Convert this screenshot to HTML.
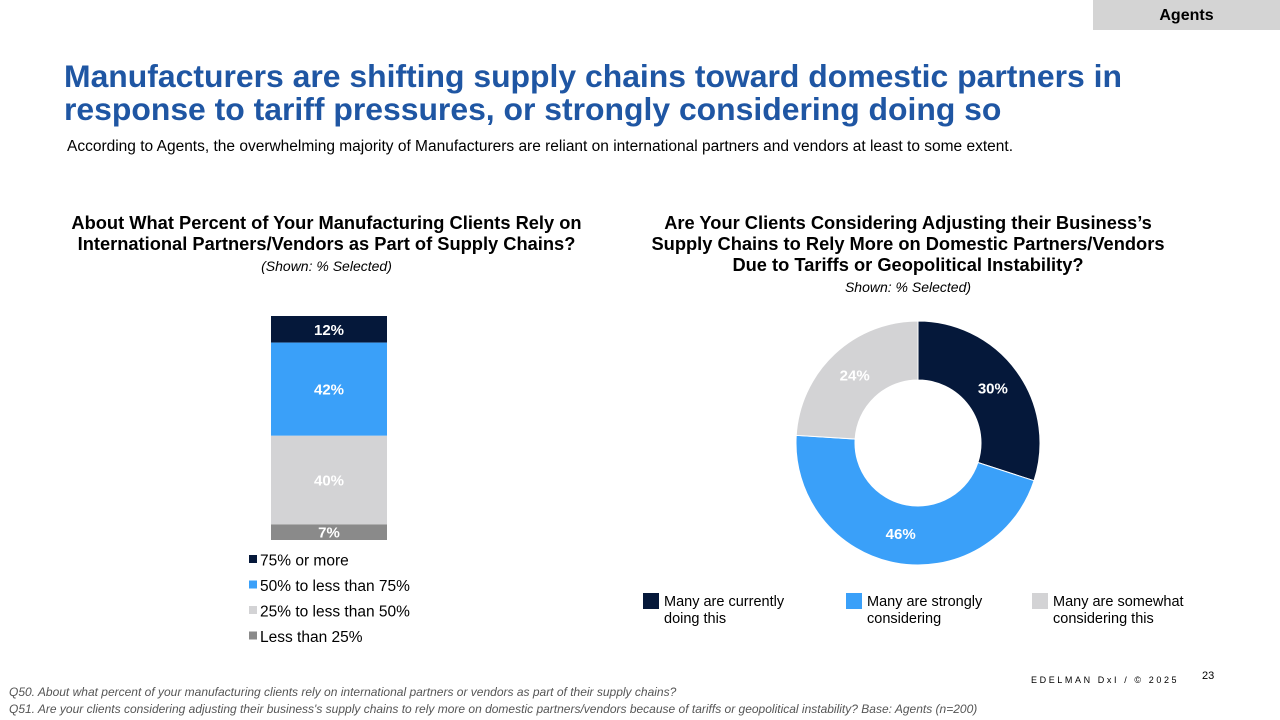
<!DOCTYPE html>
<html><head><meta charset="utf-8">
<style>
body{margin:0;width:1280px;height:720px;background:#fff;font-family:"Liberation Sans",Arial,sans-serif;position:relative;overflow:hidden}
.abs{position:absolute}
</style></head><body>
<div class="abs" style="left:1093px;top:0;width:187px;height:30px;background:#d4d4d4;font-weight:bold;font-size:16px;text-align:center;line-height:31px;color:#000">Agents</div>
<div class="abs" style="left:64px;top:60px;width:1180px;font-size:31.9px;font-weight:bold;color:#1f56a3;line-height:33px">Manufacturers are shifting supply chains toward domestic partners in response to tariff pressures, or strongly considering doing so</div>
<div class="abs" style="left:67px;top:138px;font-size:15.5px;color:#000">According to Agents, the overwhelming majority of Manufacturers are reliant on international partners and vendors at least to some extent.</div>

<div class="abs" style="left:40px;top:212px;width:573px;text-align:center;font-size:18.3px;font-weight:bold;line-height:21px">About What Percent of Your Manufacturing Clients Rely on International Partners/Vendors as Part of Supply Chains?<br><span style="font-weight:normal;font-style:italic;font-size:14px">(Shown: % Selected)</span></div>
<div class="abs" style="left:638px;top:212px;width:540px;text-align:center;font-size:18.3px;font-weight:bold;line-height:21px">Are Your Clients Considering Adjusting their Business’s Supply Chains to Rely More on Domestic Partners/Vendors Due to Tariffs or Geopolitical Instability?<br><span style="font-weight:normal;font-style:italic;font-size:14px">Shown: % Selected)</span></div>

<svg class="abs" style="left:0;top:0" width="1280" height="720" id="chart"></svg>

<div class="abs" style="left:1031px;top:675px;font-size:9px;letter-spacing:2.6px">EDELMAN DxI / © 2025</div>
<div class="abs" style="left:1202px;top:670px;font-size:11px">23</div>
<div class="abs" style="left:9px;top:684px;font-size:12px;font-style:italic;color:#555;line-height:17px">Q50. About what percent of your manufacturing clients rely on international partners or vendors as part of their supply chains?<br>Q51. Are your clients considering adjusting their business's supply chains to rely more on domestic partners/vendors because of tariffs or geopolitical instability? Base: Agents (n=200)</div>

<script>
const barCategories=["75% or more","50% to less than 75%","25% to less than 50%","Less than 25%"];
const barValues=[12,42,40,7];
const barColors=["#05183a","#3aa0f9","#d3d3d5","#8a8a8a"];
const barLabelColors=["#fff","#fff","#fff","#fff"];
const donutCategories=["Many are currently doing this","Many are strongly considering","Many are somewhat considering this"];
const donutValues=[30,46,24];
const donutColors=["#05183a","#3aa0f9","#d3d3d5"];
const NS="http://www.w3.org/2000/svg";
const svg=document.getElementById('chart');
function mk(t,a){const e=document.createElementNS(NS,t);for(const k in a)e.setAttribute(k,a[k]);svg.appendChild(e);return e;}
const barTop=316,barBottom=540,barX=271,barW=116;
const tot=barValues.reduce((a,b)=>a+b,0);
const yScale=v=>v/tot*(barBottom-barTop);
let y=barTop;
barValues.forEach((v,i)=>{
 const h=yScale(v);
 const r=mk('rect',{x:barX,y:y,width:barW,height:h,fill:barColors[i]});
 
 
 const t=mk('text',{x:barX+barW/2,y:y+h/2+5.5,'text-anchor':'middle','font-size':15,'font-weight':'bold',fill:barLabelColors[i]});
 t.textContent=v+'%';
 
 
 y+=h;
});
barCategories.forEach((c,i)=>{
 const ly=560+i*25.5;
 const s=mk('rect',{x:249,y:ly-5,width:8,height:8,fill:barColors[i]});
 
 
 const t=mk('text',{x:260,y:ly+5.5,'font-size':15.5,fill:'#000'});
 t.textContent=c;
 
 
});
const cx=918,cy=443,R=122,r0=63;
const dt=donutValues.reduce((a,b)=>a+b,0);
let a0=-Math.PI/2;
const pt=(rad,a)=>[cx+rad*Math.cos(a),cy+rad*Math.sin(a)];
donutValues.forEach((v,i)=>{
 const a1=a0+v/dt*2*Math.PI;
 const lg=(a1-a0)>Math.PI?1:0;
 const [x1,y1]=pt(R,a0),[x2,y2]=pt(R,a1),[x3,y3]=pt(r0,a1),[x4,y4]=pt(r0,a0);
 const p=mk('path',{d:`M${x1},${y1}A${R},${R} 0 ${lg} 1 ${x2},${y2}L${x3},${y3}A${r0},${r0} 0 ${lg} 0 ${x4},${y4}Z`,fill:donutColors[i],stroke:'#fff','stroke-width':1});
 
 
 const am=(a0+a1)/2,[lx,ly]=pt((R+r0)/2,am);
 const t=mk('text',{x:lx,y:ly+5,'text-anchor':'middle','font-size':15,'font-weight':'bold',fill:'#fff'});
 t.textContent=v+'%';
 
 
 a0=a1;
});
const lxs=[643,846,1032];
const lines=[["Many are currently","doing this"],["Many are strongly","considering"],["Many are somewhat","considering this"]];
donutCategories.forEach((c,i)=>{
 const s=mk('rect',{x:lxs[i],y:593,width:16,height:16,fill:donutColors[i]});
 
 
 const t=mk('text',{x:lxs[i]+21,y:606,'font-size':14.5,fill:'#000'});
 
 
 lines[i].forEach((l,j)=>{const ts=document.createElementNS(NS,'tspan');ts.setAttribute('x',lxs[i]+21);ts.setAttribute('dy',j?17:0);ts.textContent=l;t.appendChild(ts);});
});
</script>
</body></html>
